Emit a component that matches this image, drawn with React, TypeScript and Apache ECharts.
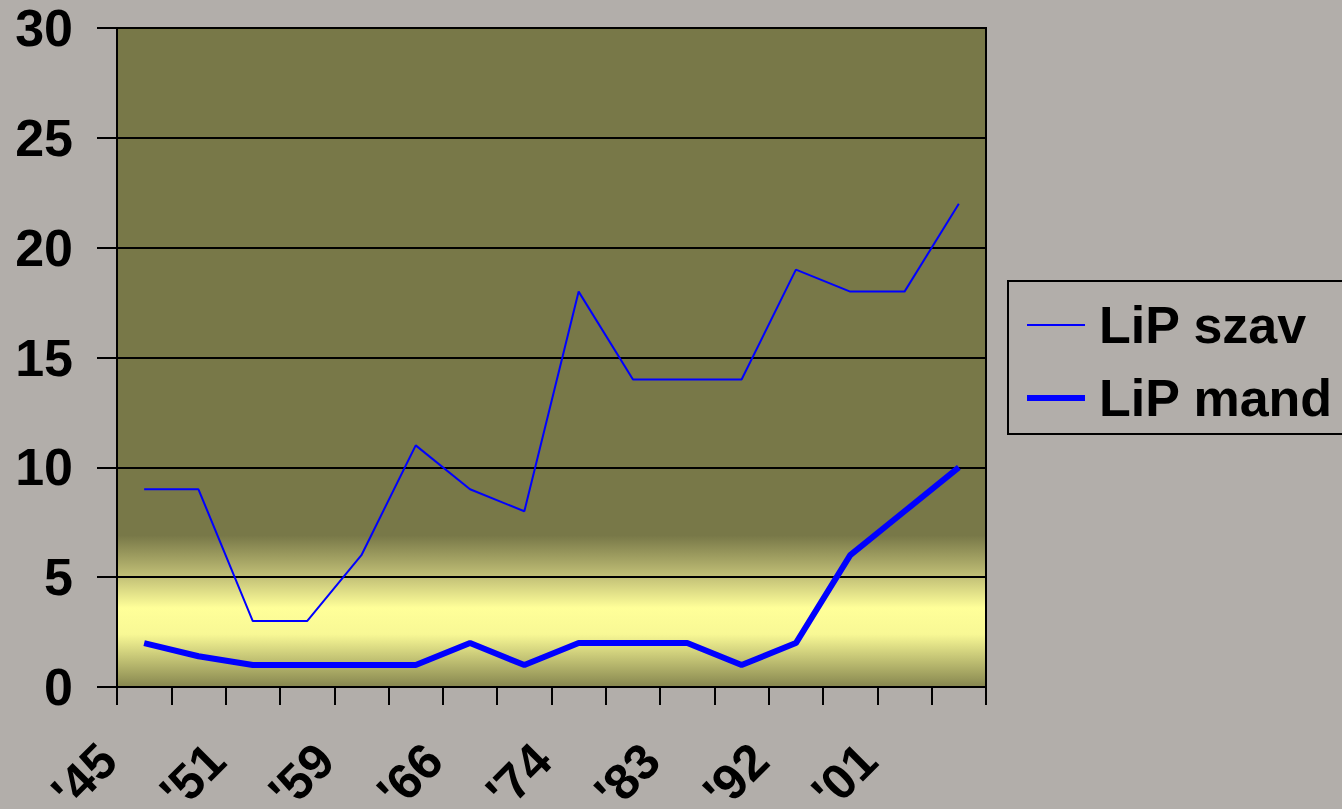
import React, { useEffect, useRef } from "react";
import * as echarts from "echarts";

const categories = ["'45", "'48", "'51", "'55", "'59", "'62", "'66", "'70", "'74", "'79", "'83", "'87", "'92", "'96", "'01", "'05"];
const szav = [9, 9, 3, 3, 6, 11, 9, 8, 18, 14, 14, 14, 19, 18, 18, 22];
const mand = [2, 1.4, 1, 1, 1, 1, 2, 1, 2, 2, 2, 1, 2, 6, 8, 10];
const seriesNames = ["LiP szav", "LiP mand"];
const yMin = 0;
const yMax = 30;
const yStep = 5;

const FONT = "'Liberation Sans', Arial, Helvetica, sans-serif";

export default function App() {
  const ref = useRef<HTMLDivElement>(null);
  useEffect(() => {
    if (!ref.current) return;
    const chart = echarts.init(ref.current, null, { renderer: "svg" });
    const plotGradient = new echarts.graphic.LinearGradient(0, 0, 0, 1, [
      { offset: 0, color: "#787848" },
      { offset: 0.77, color: "#787848" },
      { offset: 0.834, color: "#C4C278" },
      { offset: 0.88, color: "#FFFF99" },
      { offset: 0.92, color: "#F8F895" },
      { offset: 1, color: "#86864F" },
    ]);
    chart.setOption({
      animation: false,
      backgroundColor: "#B2AEAA",
      grid: {
        left: 117,
        top: 28,
        width: 869,
        height: 659,
        show: true,
        backgroundColor: plotGradient,
        borderColor: "#000",
        borderWidth: 2,
        containLabel: false,
        outerBoundsMode: "none",
      },
      legend: {
        orient: "vertical",
        left: 1008,
        top: 281,
        padding: [18, 40, 10, 19],
        itemGap: 21,
        itemWidth: 58,
        itemHeight: 6,
        itemStyle: { borderWidth: 0 },
        borderColor: "#000",
        borderWidth: 2,
        backgroundColor: "transparent",
        textStyle: {
          fontFamily: FONT,
          fontWeight: "bold",
          fontSize: 52,
          lineHeight: 52,
          color: "#000",
          padding: [0, 0, 0, 9],
        },
        data: [
          { name: seriesNames[0], icon: "path://M0,0H58V2H0Z" },
          { name: seriesNames[1], icon: "path://M0,0H58V6H0Z" },
        ],
      },
      xAxis: {
        type: "category",
        data: categories,
        boundaryGap: true,
        axisLine: { lineStyle: { color: "#000", width: 2 } },
        axisTick: { show: true, interval: 0, length: 18, lineStyle: { color: "#000", width: 2 } },
        axisLabel: {
          interval: 1,
          rotate: 45,
          margin: 29,
          padding: [0, 51, 0, 0],
          fontFamily: FONT,
          fontWeight: "bold",
          fontSize: 50,
          color: "#000",
        },
        splitLine: { show: false },
      },
      yAxis: {
        type: "value",
        min: yMin,
        max: yMax,
        interval: yStep,
        axisLine: { show: true, lineStyle: { color: "#000", width: 2 } },
        axisTick: { show: true, length: 20, lineStyle: { color: "#000", width: 2 } },
        axisLabel: {
          margin: 44,
          fontFamily: FONT,
          fontWeight: "bold",
          fontSize: 52,
          color: "#000",
        },
        splitLine: { show: true, lineStyle: { color: "#000", width: 2 } },
      },
      series: [
        {
          name: seriesNames[0],
          type: "line",
          data: szav,
          symbol: "none",
          showSymbol: false,
          color: "#0000FF",
          lineStyle: { color: "#0000FF", width: 2 },
        },
        {
          name: seriesNames[1],
          type: "line",
          data: mand,
          symbol: "none",
          showSymbol: false,
          color: "#0000FF",
          lineStyle: { color: "#0000FF", width: 6 },
        },
      ],
    });
    return () => chart.dispose();
  }, []);
  return (
    <div
      ref={ref}
      style={{ position: "fixed", left: 0, top: 0, width: 1342, height: 809 }}
    />
  );
}
